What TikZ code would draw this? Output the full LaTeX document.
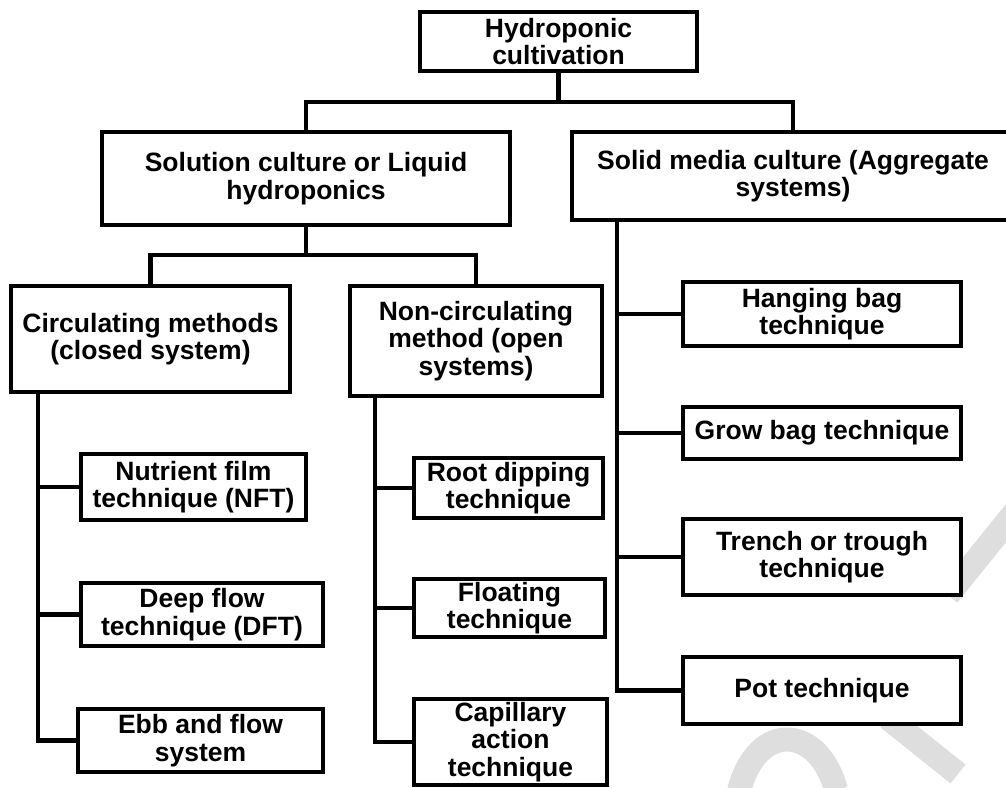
\documentclass[tikz,border=0pt]{standalone}
\usepackage{fontspec}
\setmainfont{Liberation Sans}
\definecolor{wm}{HTML}{DEDEDE}
\begin{document}
\begin{tikzpicture}[x=1pt,y=-1pt, line join=miter,
  box/.style={draw, fill=white, rectangle, line width=4.3pt, inner sep=0pt, align=center,
    font=\fontsize{26.5}{27.5}\selectfont\bfseries},
  link/.style={line width=4.3pt},
  wmark/.style={draw=wm, line width=24pt, line cap=butt}]
\fill[white] (0,0) rectangle (1006,787);
\useasboundingbox (0,0) rectangle (1006,787);
% faint watermark fragments
\draw[wmark] (1015,512) -- (948,595);
\draw[wmark] (888,718) -- (958,774);
\draw[wmark] (737,800) .. controls (752,720) and (818,722) .. (836,790);
% level 0
\node[box, minimum width=277pt, minimum height=59pt] (top) at (558.5,41.5) {Hydroponic\\cultivation};
% level 1
\node[box, minimum width=408pt, minimum height=93pt] (sol) at (306,178.5) {Solution culture or Liquid\\hydroponics};
\node[box, minimum width=442pt, minimum height=88pt] (solid) at (793,176) {Solid media culture (Aggregate\\systems)};
% level 2
\node[box, minimum width=279pt, minimum height=106pt] (circ) at (150.5,339) {Circulating methods\\(closed system)};
\node[box, minimum width=252pt, minimum height=110pt] (noncirc) at (476,341) {Non-circulating\\method (open\\systems)};
% circulating children
\node[box, minimum width=225pt, minimum height=66pt] (nft) at (193.5,487) {Nutrient film\\technique (NFT)};
\node[box, minimum width=242pt, minimum height=63pt] (dft) at (202,614.5) {Deep flow\\technique (DFT)};
\node[box, minimum width=245pt, minimum height=63pt] (ebb) at (200.5,740.5) {Ebb and flow\\system};
% non-circulating children
\node[box, minimum width=189pt, minimum height=60pt] (root) at (508.5,488) {Root dipping\\technique};
\node[box, minimum width=191pt, minimum height=58pt] (float) at (509.5,608) {Floating\\technique};
\node[box, minimum width=193pt, minimum height=86pt] (cap) at (510.5,742) {Capillary\\action\\technique};
% solid media children
\node[box, minimum width=278pt, minimum height=64pt] (hang) at (822,314) {Hanging bag\\technique};
\node[box, minimum width=278pt, minimum height=52pt] (grow) at (822,433) {Grow bag technique};
\node[box, minimum width=278pt, minimum height=76pt] (trench) at (822,557) {Trench or trough\\technique};
\node[box, minimum width=278pt, minimum height=67pt] (pot) at (822,690.5) {Pot technique};
% connectors
\coordinate (j0) at (558.5,102);
\draw[link] (top.south) -- (j0);
\draw[link] (j0) -| (sol.north);
\draw[link] (j0) -| (solid.north);
\coordinate (j1) at (306,255);
\draw[link] (sol.south) -- (j1);
\draw[link] (j1) -| (circ.north);
\draw[link] (j1) -| (noncirc.north);
\coordinate (cv) at (38,392);
\draw[link] (cv) |- (ebb.west);
\draw[link] (nft.west) -- (nft.west -| cv);
\draw[link] (dft.west) -- (dft.west -| cv);
\coordinate (nv) at (375,396);
\draw[link] (nv) |- (cap.west);
\draw[link] (root.west) -- (root.west -| nv);
\draw[link] (float.west) -- (float.west -| nv);
\coordinate (sv) at (617,220);
\draw[link] (sv) |- (pot.west);
\draw[link] (hang.west) -- (hang.west -| sv);
\draw[link] (grow.west) -- (grow.west -| sv);
\draw[link] (trench.west) -- (trench.west -| sv);
\end{tikzpicture}
\end{document}
